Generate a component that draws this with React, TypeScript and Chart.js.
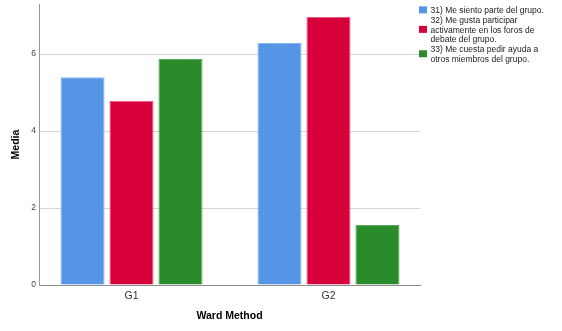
import React, { useEffect, useRef } from "react";
import { Chart, registerables } from "chart.js";

Chart.register(...registerables);

const categories = ["G1", "G2"];
const seriesNames = [
  "31) Me siento parte del grupo.",
  "32) Me gusta participar activamente en los foros de debate del grupo.",
  "33) Me cuesta pedir ayuda a otros miembros del grupo.",
];
const series31 = [5.4, 6.29];
const series32 = [4.78, 6.96];
const series33 = [5.87, 1.56];
const yTicks = [0, 2, 4, 6];

const FONT = "'Liberation Sans', Arial, Helvetica, sans-serif";

function wrapText(ctx: CanvasRenderingContext2D, text: string, maxWidth: number): string[] {
  const words = text.split(" ");
  const lines: string[] = [];
  let cur = "";
  for (const w of words) {
    const test = cur ? cur + " " + w : w;
    if (cur && ctx.measureText(test).width > maxWidth) {
      lines.push(cur);
      cur = w;
    } else {
      cur = test;
    }
  }
  if (cur) lines.push(cur);
  return lines;
}

const sideLegend = {
  id: "sideLegend",
  afterDraw(chart: any) {
    const ctx: CanvasRenderingContext2D = chart.ctx;
    const area = chart.chartArea;
    ctx.save();
    ctx.font = `8.5px ${FONT}`;
    ctx.textBaseline = "middle";
    ctx.textAlign = "left";
    const lh = 9.75;
    const boxX = area.right - 1;
    const textX = boxX + 11.5;
    let y = 6;
    chart.data.datasets.forEach((ds: any) => {
      const lines = wrapText(ctx, ds.label, 116);
      const h = lines.length * lh;
      ctx.fillStyle = ds.backgroundColor;
      ctx.fillRect(boxX, y + h / 2 - 4.5, 8, 7);
      ctx.fillStyle = "#222";
      lines.forEach((l, k) => ctx.fillText(l, textX, y + lh / 2 + k * lh));
      y += h;
    });
    ctx.restore();
  },
};

export default function App() {
  const ref = useRef<HTMLCanvasElement | null>(null);

  useEffect(() => {
    if (!ref.current) return;
    const toPts = (arr: number[]) => categories.map((_, i) => ({ x: i, y: arr[i] }));
    const chart = new Chart(ref.current, {
      type: "bar",
      data: {
        datasets: [
          {
            label: seriesNames[0],
            data: toPts(series31),
            backgroundColor: "#5595E5",
            borderColor: "#8AB6EE",
            borderWidth: 1,
          },
          {
            label: seriesNames[1],
            data: toPts(series32),
            backgroundColor: "#D8003A",
            borderColor: "#E8607F",
            borderWidth: 1,
          },
          {
            label: seriesNames[2],
            data: toPts(series33),
            backgroundColor: "#2A8B2A",
            borderColor: "#5FA95F",
            borderWidth: 1,
          },
        ],
      } as any,
      options: {
        animation: false,
        responsive: false,
        layout: { padding: { top: 4, right: 142, left: 0, bottom: 0 } },
        categoryPercentage: 0.746,
        barPercentage: 0.9,
        plugins: {
          legend: { display: false },
          tooltip: { enabled: false },
        },
        scales: {
          x: {
            type: "linear",
            offset: false,
            min: -0.4695,
            max: 1.4645,
            afterBuildTicks: (s: any) => {
              s.ticks = categories.map((_, i) => ({ value: i }));
            },
            afterFit: (s: any) => {
              s.height = 46;
              s.paddingLeft = 0;
              s.paddingRight = 0;
            },
            ticks: {
              callback: (v: any) => categories[v] ?? "",
              font: { family: FONT, size: 10.5 },
              color: "#333",
              padding: 4.5,
              maxRotation: 0,
              autoSkip: false,
            },
            grid: { display: false, drawTicks: false, offset: false },
            border: { display: true, color: "#8c8c8c", width: 1 },
            title: {
              display: true,
              text: "Ward Method",
              font: { family: FONT, size: 10.5, weight: "bold" },
              color: "#000",
              padding: { top: 0, bottom: 9 },
            },
          },
          y: {
            min: 0,
            max: 7.3,
            afterBuildTicks: (s: any) => {
              s.ticks = yTicks.map((v) => ({ value: v }));
            },
            afterFit: (s: any) => {
              s.width = 39;
              s.paddingTop = 0;
              s.paddingBottom = 0;
            },
            ticks: {
              font: { family: FONT, size: 8.5 },
              color: "#444",
              padding: 3,
            },
            grid: {
              color: (c: any) => (c.tick && c.tick.value === 0 ? "rgba(0,0,0,0)" : "#d4d4d4"),
              drawTicks: false,
            },
            border: { display: true, color: "#999", width: 1 },
            title: {
              display: true,
              text: "Media",
              font: { family: FONT, size: 10.5, weight: "bold" },
              color: "#000",
              padding: { top: 9.7, bottom: 0 },
            },
          },
        },
      } as any,
      plugins: [sideLegend],
    });
    return () => chart.destroy();
  }, []);

  return (
    <div style={{ position: "absolute", left: 0, top: 0, width: 562, height: 331, background: "#fff" }}>
      <canvas ref={ref} width={562} height={331} style={{ display: "block" }} />
    </div>
  );
}
